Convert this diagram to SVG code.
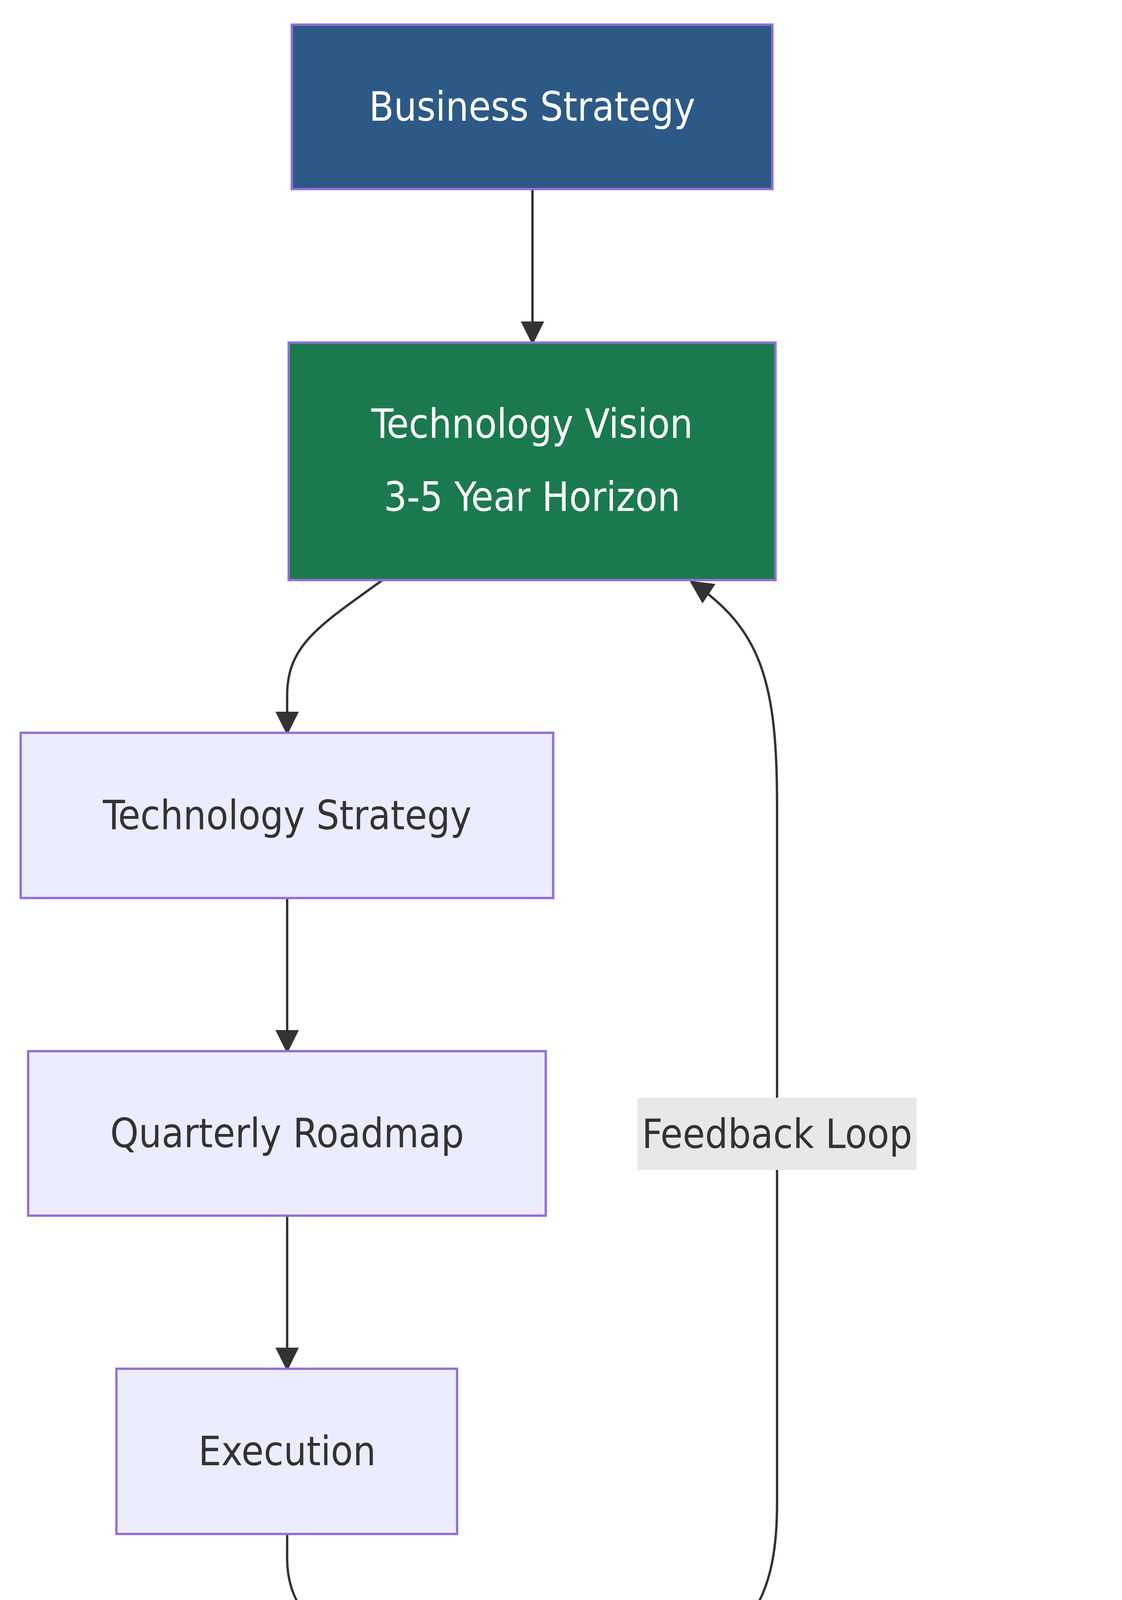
<svg xmlns="http://www.w3.org/2000/svg" width="2872" height="4912" viewBox="0 0 2872 4912">
<style>
.n{stroke:#9370DB;stroke-width:6}
.t{font-family:"DejaVu Sans Condensed","DejaVu Sans",sans-serif;font-size:103px;text-anchor:middle;dominant-baseline:central}
.w{fill:#ffffff}.d{fill:#333333}
.e{fill:none;stroke:#333333;stroke-width:6}
</style>
<defs><marker id="a" viewBox="0 0 10 10" refX="9" refY="5" markerWidth="10" markerHeight="10" markerUnits="strokeWidth" orient="auto"><path d="M0,0L10,5L0,10z" fill="#333333"/></marker></defs>
<rect width="2872" height="4912" fill="#ffffff"/>
<g id="edges">
<path class="e" d="M1363,484V877" marker-end="url(#a)"/>
<path class="e" d="M979,1485C820,1600 735,1650 735,1780V1876" marker-end="url(#a)"/>
<path class="e" d="M735,2299V2691" marker-end="url(#a)"/>
<path class="e" d="M735,3112V3504" marker-end="url(#a)"/>
<path class="e" d="M735,3927V3990C735,4120 820,4200 1010,4317" marker-end="url(#a)"/>
<path class="e" d="M1691,4317C1900,4200 1989,4120 1989,3850V2060C1989,1750 1950,1610 1770,1490" marker-end="url(#a)"/>
<rect x="1632" y="2810" width="714" height="185" fill="#e8e8e8"/>
<text class="t d" x="1989" y="2903">Feedback Loop</text>
</g>
<g id="bs"><rect class="n" x="747" y="63" width="1230" height="421" fill="#2d5986"/><text class="t w" x="1362" y="273">Business Strategy</text></g>
<g id="tv"><rect class="n" x="739" y="877" width="1246" height="608" fill="#1b7a4d"/><text class="t w" x="1362" y="1085">Technology Vision</text><text class="t w" x="1362" y="1272">3-5 Year Horizon</text></g>
<g id="ts"><rect class="n" x="53" y="1876" width="1363" height="423" fill="#ECECFF"/><text class="t d" x="735" y="2087">Technology Strategy</text></g>
<g id="qr"><rect class="n" x="72" y="2691" width="1325" height="421" fill="#ECECFF"/><text class="t d" x="735" y="2901">Quarterly Roadmap</text></g>
<g id="ex"><rect class="n" x="298" y="3504" width="872" height="423" fill="#ECECFF"/><text class="t d" x="735" y="3715">Execution</text></g>
<g id="mo"><rect class="n" x="713" y="4317" width="1298" height="423" fill="#8b5e3c"/><text class="t w" x="1362" y="4528">Measure Outcomes</text></g>
</svg>
